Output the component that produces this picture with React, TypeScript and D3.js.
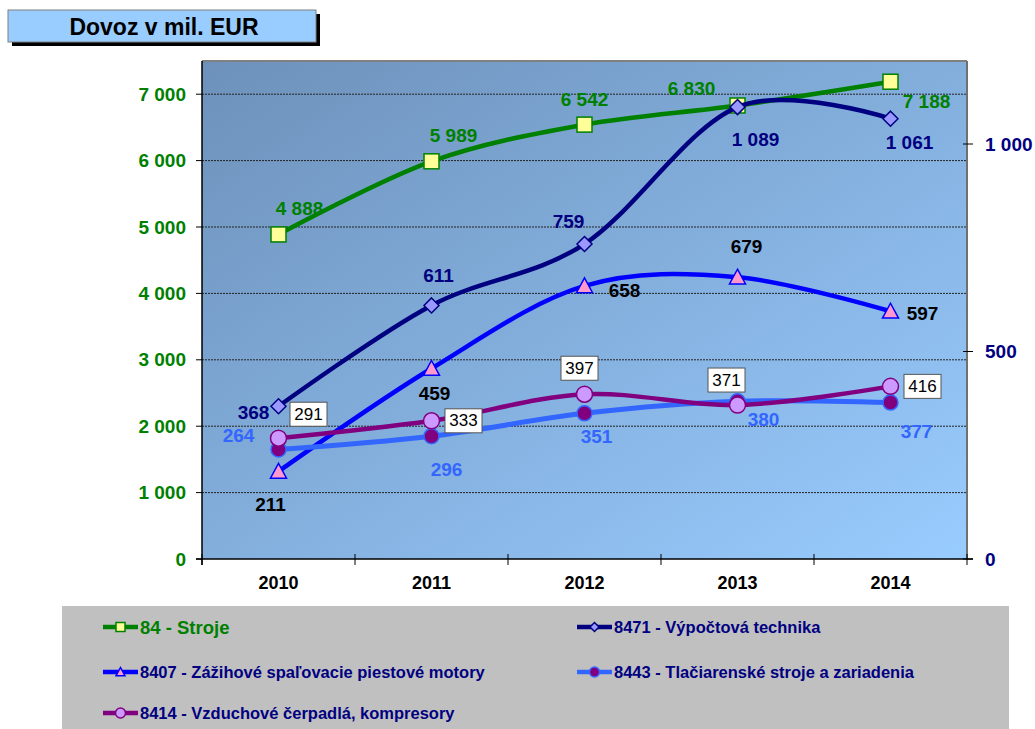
import React from "react";
import * as d3 from "d3";

// ---------- data ----------
const categories = ["2010", "2011", "2012", "2013", "2014"];
const stroje = [4888, 5989, 6542, 6830, 7188];
const vypoctova = [368, 611, 759, 1089, 1061];
const zazihove = [211, 459, 658, 679, 597];
const tlaciarenske = [264, 296, 351, 380, 377];
const vzduchove = [291, 333, 397, 371, 416];
const leftTicks = [0, 1000, 2000, 3000, 4000, 5000, 6000, 7000];
const rightTicks = [0, 500, 1000];
const title = "Dovoz v mil. EUR";
const seriesNames = [
  "84 - Stroje",
  "8471 - Výpočtová technika",
  "8407 - Zážihové spaľovacie piestové motory",
  "8443 - Tlačiarenské stroje a zariadenia",
  "8414 - Vzduchové čerpadlá, kompresory",
];

// ---------- layout / style ----------
const W = 1035;
const H = 729;
const P = { left: 202, right: 967, top: 61, bottom: 559 };
const FONT = "'Liberation Sans', Arial, sans-serif";

const fmt = d3.formatLocale({ decimal: ",", thousands: " ", grouping: [3], currency: ["", ""] }).format(",");

type Marker = "square" | "diamond" | "triangle" | "circle";
interface Series {
  name: string;
  values: number[];
  axis: "L" | "R";
  color: string;
  width: number;
  marker: Marker;
  mSize: number;
  mFill: string;
  mStroke: string;
  labelColor: string;
  boxed?: boolean;
  offsets: [number, number][];
  legendFont: number;
  legendColor: string;
}

const series: Series[] = [
  {
    name: seriesNames[0], values: stroje, axis: "L", color: "#008000", width: 4.5,
    marker: "square", mSize: 15, mFill: "#FFFF99", mStroke: "#008000", labelColor: "#008000",
    offsets: [[21, -26], [22, -26], [0, -25], [-46, -17], [36, 20]],
    legendFont: 18.5, legendColor: "#008000",
  },
  {
    name: seriesNames[1], values: vypoctova, axis: "R", color: "#000080", width: 4.5,
    marker: "diamond", mSize: 15, mFill: "#9999FF", mStroke: "#000080", labelColor: "#000080",
    offsets: [[-25, 6], [7, -30], [-16, -23], [18, 32], [19, 24]],
    legendFont: 16.5, legendColor: "#000080",
  },
  {
    name: seriesNames[2], values: zazihove, axis: "R", color: "#0000FF", width: 4.5,
    marker: "triangle", mSize: 16, mFill: "#FF99CC", mStroke: "#0000FF", labelColor: "#000000",
    offsets: [[-8, 33], [3, 25], [40, 5], [9, -31], [32, 2]],
    legendFont: 16.5, legendColor: "#000080",
  },
  {
    name: seriesNames[3], values: tlaciarenske, axis: "R", color: "#3366FF", width: 5,
    marker: "circle", mSize: 15, mFill: "#800080", mStroke: "#3366FF", labelColor: "#3366FF",
    offsets: [[-40, -14], [15, 33], [12, 23], [26, 18], [26, 29]],
    legendFont: 16.5, legendColor: "#000080",
  },
  {
    name: seriesNames[4], values: vzduchove, axis: "R", color: "#800080", width: 4.5,
    marker: "circle", mSize: 16, mFill: "#CC99FF", mStroke: "#800080", labelColor: "#000000",
    boxed: true,
    offsets: [[30, -24], [32, 0], [-5, -26], [-11, -25], [32, 0]],
    legendFont: 16.5, legendColor: "#000080",
  },
];

const x = d3.scaleBand<string>().domain(categories).range([P.left, P.right]);
const cx = (c: string) => (x(c) as number) + x.bandwidth() / 2;
const yL = d3.scaleLinear().domain([0, 7500]).range([P.bottom, P.top]);
const yR = d3.scaleLinear().domain([0, 1200]).range([P.bottom, P.top]);

function MarkerShape({ type, px, py, size, fill, stroke }: { type: Marker; px: number; py: number; size: number; fill: string; stroke: string }) {
  const h = size / 2;
  if (type === "square")
    return <rect x={px - h} y={py - h} width={size} height={size} fill={fill} stroke={stroke} strokeWidth={1.5} />;
  if (type === "diamond")
    return <polygon points={`${px},${py - h} ${px + h},${py} ${px},${py + h} ${px - h},${py}`} fill={fill} stroke={stroke} strokeWidth={1.5} />;
  if (type === "triangle")
    return <polygon points={`${px},${py - h} ${px + h},${py + h * 0.85} ${px - h},${py + h * 0.85}`} fill={fill} stroke={stroke} strokeWidth={1.5} />;
  return <circle cx={px} cy={py} r={h} fill={fill} stroke={stroke} strokeWidth={1.5} />;
}

export default function App() {
  const line = d3.line<[number, number]>().curve(d3.curveCatmullRom.alpha(0));
  const legendPos: [number, number][] = [
    [103, 627], [577, 627], [103, 672], [577, 672], [103, 713],
  ];
  return (
    <svg width={W} height={H} style={{ position: "absolute", left: 0, top: 0, display: "block" }} fontFamily={FONT}>
      <defs>
        <linearGradient id="bg" x1="0" y1="0" x2="1" y2="1">
          <stop offset="0%" stopColor="#6D91BA" />
          <stop offset="100%" stopColor="#99CCFF" />
        </linearGradient>
      </defs>
      <rect x={0} y={0} width={W} height={H} fill="#ffffff" />

      {/* title */}
      <rect x={12} y={14} width={308} height={32} fill="#000000" />
      <rect x={8} y={10} width={308} height={32} fill="#99CCFF" stroke="#808080" strokeWidth={1} />
      <text x={164} y={27} textAnchor="middle" dominantBaseline="central" fontSize={23} fontWeight="bold" fill="#000">
        {title}
      </text>

      {/* plot area */}
      <rect x={P.left} y={P.top} width={P.right - P.left} height={P.bottom - P.top} fill="url(#bg)" />
      {leftTicks.filter((t) => t > 0).map((t) => (
        <line key={"g" + t} x1={P.left} x2={P.right} y1={yL(t)} y2={yL(t)} stroke="#222" strokeWidth={1} strokeDasharray="2 1" />
      ))}
      <line x1={P.left} x2={P.right} y1={P.top} y2={P.top} stroke="#808080" strokeWidth={2} />
      <line x1={P.right} x2={P.right} y1={P.top} y2={P.bottom} stroke="#707070" strokeWidth={2} />
      <line x1={P.left} x2={P.left} y1={P.top} y2={P.bottom + 6} stroke="#000" strokeWidth={1.5} />
      <line x1={P.left - 6} x2={P.right + 6} y1={P.bottom} y2={P.bottom} stroke="#000" strokeWidth={1.5} />

      {/* left axis */}
      {leftTicks.map((t) => (
        <g key={"l" + t}>
          <line x1={P.left - 6} x2={P.left} y1={yL(t)} y2={yL(t)} stroke="#000" strokeWidth={1} />
          <text x={186} y={yL(t)} textAnchor="end" dominantBaseline="central" fontSize={19} fontWeight="bold" fill="#008000">
            {fmt(t)}
          </text>
        </g>
      ))}
      {/* right axis */}
      {rightTicks.map((t) => (
        <g key={"r" + t}>
          <line x1={P.right - 4} x2={P.right + 6} y1={yR(t)} y2={yR(t)} stroke="#000" strokeWidth={1} />
          <text x={985} y={yR(t)} textAnchor="start" dominantBaseline="central" fontSize={19} fontWeight="bold" fill="#000080">
            {fmt(t)}
          </text>
        </g>
      ))}
      {/* x axis */}
      {categories.map((c, i) => (
        <g key={"x" + c}>
          <line x1={x(c) as number} x2={x(c) as number} y1={P.bottom - 5} y2={P.bottom + 6} stroke="#000" strokeWidth={1} />
          {i === categories.length - 1 && (
            <line x1={P.right} x2={P.right} y1={P.bottom - 5} y2={P.bottom + 6} stroke="#000" strokeWidth={1} />
          )}
          <text x={cx(c)} y={583} textAnchor="middle" dominantBaseline="central" fontSize={18} fontWeight="bold" fill="#000">
            {c}
          </text>
        </g>
      ))}

      {/* series */}
      {series.map((s, si) => {
        const ys = s.axis === "L" ? yL : yR;
        const pts: [number, number][] = s.values.map((v, i) => [cx(categories[i]), ys(v)]);
        return (
          <g key={"s" + si}>
            <path d={line(pts) || ""} fill="none" stroke={s.color} strokeWidth={s.width} strokeLinejoin="round" strokeLinecap="round" />
            {pts.map((p, i) => (
              <MarkerShape key={i} type={s.marker} px={p[0]} py={p[1]} size={s.mSize} fill={s.mFill} stroke={s.mStroke} />
            ))}
          </g>
        );
      })}

      {/* data labels */}
      {series.map((s, si) => {
        const ys = s.axis === "L" ? yL : yR;
        return (
          <g key={"lb" + si}>
            {s.values.map((v, i) => {
              const lx = cx(categories[i]) + s.offsets[i][0];
              const ly = ys(v) + s.offsets[i][1];
              if (s.boxed) {
                return (
                  <g key={i}>
                    <rect x={lx - 18.5} y={ly - 12} width={37} height={24} fill="#fff" stroke="#555" strokeWidth={1} />
                    <text x={lx} y={ly} textAnchor="middle" dominantBaseline="central" fontSize={17} fill="#000">
                      {fmt(v)}
                    </text>
                  </g>
                );
              }
              return (
                <text key={i} x={lx} y={ly} textAnchor="middle" dominantBaseline="central" fontSize={19} fontWeight="bold" fill={s.labelColor}>
                  {fmt(v)}
                </text>
              );
            })}
          </g>
        );
      })}

      {/* legend */}
      <rect x={62} y={606} width={947} height={130} fill="#C0C0C0" />
      {series.map((s, si) => {
        const [lx, ly] = legendPos[si];
        return (
          <g key={"lg" + si}>
            <line x1={lx} x2={lx + 35} y1={ly} y2={ly} stroke={s.color} strokeWidth={4.5} />
            <MarkerShape type={s.marker} px={lx + 17.5} py={ly} size={s.marker === "circle" ? 10 : 9} fill={s.mFill} stroke={s.mStroke} />
            <text x={lx + 37} y={ly} dominantBaseline="central" fontSize={s.legendFont} fontWeight="bold" fill={s.legendColor}>
              {s.name}
            </text>
          </g>
        );
      })}
    </svg>
  );
}
